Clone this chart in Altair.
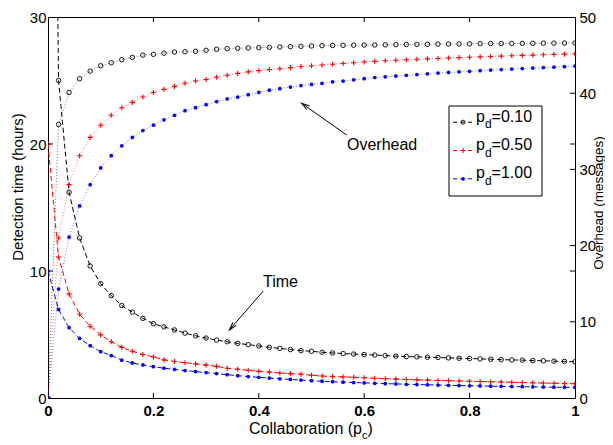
import altair as alt
import pandas as pd

# ---------------- data ----------------
pc = [round(i * 0.02, 2) for i in range(51)]
series_keys = ["0.10", "0.50", "1.00"]

time_010 = [100, 25.0, 16.2, 12.6, 10.4, 9.0, 8.06, 7.28, 6.76, 6.27, 5.85, 5.6, 5.36, 5.11,
            4.90, 4.72, 4.56, 4.43, 4.30, 4.20, 4.10, 3.99, 3.91, 3.81, 3.73, 3.68, 3.60, 3.55,
            3.50, 3.46, 3.42, 3.38, 3.34, 3.29, 3.26, 3.24, 3.21, 3.19, 3.16, 3.13, 3.11, 3.08,
            3.05, 3.02, 3.00, 2.98, 2.95, 2.93, 2.90, 2.88, 2.85]
time_050 = [20, 11.1, 8.2, 6.6, 5.65, 4.97, 4.43, 3.99, 3.68, 3.42, 3.24, 3.0, 2.87, 2.78,
            2.69, 2.59, 2.49, 2.34, 2.26, 2.18, 2.10, 2.04, 1.97, 1.92, 1.87, 1.79, 1.73, 1.69,
            1.66, 1.63, 1.60, 1.55, 1.52, 1.49, 1.46, 1.43, 1.41, 1.38, 1.36, 1.34, 1.32, 1.30,
            1.28, 1.26, 1.24, 1.22, 1.20, 1.18, 1.16, 1.14, 1.12]
time_100 = [10, 6.97, 5.54, 4.69, 4.12, 3.65, 3.34, 2.98, 2.76, 2.60, 2.47, 2.35, 2.25, 2.16,
            2.08, 2.00, 1.92, 1.84, 1.76, 1.69, 1.63, 1.57, 1.51, 1.46, 1.41, 1.36, 1.32, 1.28,
            1.25, 1.22, 1.19, 1.16, 1.13, 1.11, 1.08, 1.06, 1.04, 1.02, 1.00, 0.98, 0.96, 0.95,
            0.93, 0.92, 0.90, 0.89, 0.88, 0.86, 0.85, 0.84, 0.83]

over_010 = [0, 35.9, 40.1, 41.9, 42.9, 43.6, 44.0, 44.4, 44.7, 45.0, 45.1, 45.25, 45.4, 45.45,
            45.5, 45.63, 45.76, 45.85, 45.9, 45.94, 45.98, 46.02, 46.07, 46.11, 46.15, 46.2,
            46.24, 46.26, 46.28, 46.3, 46.32, 46.33, 46.35, 46.37, 46.39, 46.41, 46.42, 46.44,
            46.45, 46.47, 46.48, 46.5, 46.51, 46.52, 46.53, 46.54, 46.55, 46.56, 46.57, 46.58, 46.6]
over_050 = [0, 21.0, 28.0, 31.8, 34.2, 35.8, 37.1, 38.1, 38.8, 39.5, 40.1, 40.5, 40.9, 41.3,
            41.6, 41.8, 42.1, 42.36, 42.6, 42.8, 42.96, 43.1, 43.2, 43.35, 43.5, 43.6, 43.7,
            43.8, 43.9, 44.0, 44.1, 44.18, 44.25, 44.32, 44.38, 44.45, 44.5, 44.56, 44.62,
            44.67, 44.72, 44.77, 44.82, 44.87, 44.92, 44.96, 45.0, 45.05, 45.09, 45.13, 45.17]
over_100 = [0, 14.3, 21.1, 25.2, 28.0, 30.2, 31.8, 33.1, 34.2, 35.1, 35.8, 36.5, 37.1, 37.7,
            38.1, 38.5, 38.9, 39.25, 39.5, 39.8, 40.1, 40.4, 40.6, 40.8, 41.0, 41.15, 41.3,
            41.5, 41.6, 41.75, 41.9, 42.06, 42.15, 42.25, 42.35, 42.45, 42.55, 42.64, 42.72,
            42.8, 42.88, 42.96, 43.04, 43.1, 43.17, 43.24, 43.3, 43.36, 43.42, 43.48, 43.55]

x_ticks = [0, 0.2, 0.4, 0.6, 0.8, 1]
left_ticks = [0, 10, 20, 30]
right_ticks = [0, 10, 20, 30, 40, 50]

colors = {"0.10": "#000000", "0.50": "#ff0000", "1.00": "#0000ff"}

times = {"0.10": time_010, "0.50": time_050, "1.00": time_100}
overs = {"0.10": over_010, "0.50": over_050, "1.00": over_100}

time_df = pd.DataFrame([{"pc": x, "time": v, "pd": k}
                        for k in series_keys for x, v in zip(pc, times[k])])
over_df = pd.DataFrame([{"pc": x, "overhead": v, "pd": k}
                        for k in series_keys for x, v in zip(pc, overs[k])])

# ---------------- layout ----------------
PAD_L, PAD_T, PAD_R, PAD_B = 40, 9, 30, 45
W, H = 527, 381
OX, OY = 8 + PAD_L, 8 + PAD_T          # page position of the plot origin
FONT = "Liberation Sans"

x_enc = alt.X("pc:Q", scale=alt.Scale(domain=[0, 1], nice=False),
              axis=alt.Axis(values=x_ticks, format="~g", ticks=False, domain=False, grid=False,
                            labelFontWeight="bold", labelFontSize=15, labelPadding=5,
                            labelFlush=False, labelColor="black", title=None))
y_time = alt.Y("time:Q", scale=alt.Scale(domain=[0, 30], nice=False),
               axis=alt.Axis(orient="left", values=left_ticks, ticks=False, domain=False,
                             grid=False, labelFontSize=15, labelPadding=2,
                             labelColor="black", title=None))
y_over = alt.Y("overhead:Q", scale=alt.Scale(domain=[0, 50], nice=False),
               axis=alt.Axis(orient="right", values=right_ticks, ticks=False, domain=False,
                             grid=False, labelFontSize=15, labelPadding=4,
                             labelColor="black", title=None))

PLUS = "M -1 0 L 1 0 M 0 -1 L 0 1"


def marker(key, **kw):
    if key == "0.10":
        return alt.Chart(**kw).mark_point(shape="circle", size=20, filled=False,
                                          color=colors[key], strokeWidth=0.9, opacity=1,
                                          clip=True)
    if key == "0.50":
        return alt.Chart(**kw).mark_point(shape=PLUS, size=26, filled=False,
                                          color=colors[key], strokeWidth=1.1, opacity=1,
                                          clip=True)
    return alt.Chart(**kw).mark_point(shape="circle", size=14, filled=True,
                                      color=colors[key], opacity=1, clip=True)


time_layers = []
over_layers = []
for k in series_keys:
    time_layers.append(
        alt.Chart(time_df).transform_filter(alt.datum.pd == k)
        .mark_line(color=colors[k], strokeDash=[5, 3], strokeWidth=1, clip=True)
        .encode(x=x_enc, y=y_time))
    time_layers.append(
        marker(k, data=time_df).transform_filter(alt.datum.pd == k).encode(x=x_enc, y=y_time))
    over_layers.append(
        alt.Chart(over_df).transform_filter(alt.datum.pd == k)
        .mark_line(color=colors[k], strokeDash=[1, 2], strokeWidth=1, opacity=0.55, clip=True)
        .encode(x=x_enc, y=y_over))
    over_layers.append(
        marker(k, data=over_df).transform_filter(alt.datum.pd == k).encode(x=x_enc, y=y_over))

# inward ticks (MATLAB style)
TL = 5
lt_df = pd.DataFrame({"time": [10, 20]})
time_layers.append(alt.Chart(lt_df).mark_rule(color="black", strokeWidth=1)
                   .encode(y=y_time, x=alt.value(0), x2=alt.value(TL)))
time_layers.append(alt.Chart(lt_df).mark_rule(color="black", strokeWidth=1)
                   .encode(y=y_time, x=alt.value(W), x2=alt.value(W - TL)))
rt_df = pd.DataFrame({"overhead": [10, 20, 30, 40]})
over_layers.append(alt.Chart(rt_df).mark_rule(color="black", strokeWidth=1)
                   .encode(y=y_over, x=alt.value(W), x2=alt.value(W - TL)))
xt_df = pd.DataFrame({"pc": [0.2, 0.4, 0.6, 0.8]})
time_layers.append(alt.Chart(xt_df).mark_rule(color="black", strokeWidth=1)
                   .encode(x=x_enc, y=alt.value(H), y2=alt.value(H - TL)))
time_layers.append(alt.Chart(xt_df).mark_rule(color="black", strokeWidth=1)
                   .encode(x=x_enc, y=alt.value(0), y2=alt.value(TL)))

time_group = alt.layer(*time_layers)
over_group = alt.layer(*over_layers)

# ---------------- annotations, titles, legend (page coordinates) ----------------
one = pd.DataFrame({"a": [0]})


def text(s, x, y, size=16, angle=0, align="left", baseline="alphabetic"):
    return alt.Chart(one).mark_text(text=s, fontSize=size, angle=angle, align=align,
                                    baseline=baseline, color="black",
                                    font=FONT).encode(x=alt.value(x - OX), y=alt.value(y - OY))


def rule(x1, y1, x2, y2, color="black", dash=None, width=1):
    kw = dict(color=color, strokeWidth=width)
    if dash:
        kw["strokeDash"] = dash
    return alt.Chart(one).mark_rule(**kw).encode(
        x=alt.value(x1 - OX), y=alt.value(y1 - OY), x2=alt.value(x2 - OX), y2=alt.value(y2 - OY))


ARROW = "M -0.45 1.6 L 0 0 L 0.45 1.6"


def head(x, y, ang):
    return alt.Chart(one).mark_point(shape=ARROW, size=100, filled=False, color="black",
                                     strokeWidth=1, angle=ang, opacity=1).encode(
        x=alt.value(x - OX), y=alt.value(y - OY))


ann = [
    text("Overhead", 347, 145, baseline="middle"),
    rule(346.7, 135, 301.7, 103.3),
    head(301.7, 103.3, 305),
    text("Time", 263, 282, baseline="middle"),
    rule(263.3, 291, 229.3, 330),
    head(229.3, 330, 221),
    # axis titles
    text("Collaboration (p", 249, 434, size=16),
    text("c", 362, 439, size=11),
    text(")", 367.5, 434, size=16),
    text("Detection time (hours)", 18, 187, size=15, angle=270, align="center",
         baseline="middle"),
    text("Overhead (messages)", 599, 203, size=13.5, angle=270, align="center",
         baseline="middle"),
    # legend box
    alt.Chart(one).mark_rect(fill="white", stroke="black", strokeWidth=1).encode(
        x=alt.value(449 - OX), x2=alt.value(542 - OX),
        y=alt.value(106 - OY), y2=alt.value(196 - OY)),
]

leg_marker_style = {
    "0.10": dict(shape="circle", size=16, filled=False, strokeWidth=0.9),
    "0.50": dict(shape=PLUS, size=24, filled=False, strokeWidth=1.1),
    "1.00": dict(shape="circle", size=14, filled=True),
}
for i, k in enumerate(series_keys):
    yb = 121.7 + 28.3 * i
    ann.append(rule(453, yb + 0.5, 473, yb + 0.5, color=colors[k], dash=[4, 3.5]))
    ann.append(alt.Chart(one).mark_point(color=colors[k], opacity=1, **leg_marker_style[k])
               .encode(x=alt.value(463 - OX), y=alt.value(yb + 0.5 - OY)))
    ann.append(text("p", 476, yb, size=16))
    ann.append(text("d", 485, yb + 6.5, size=12))
    ann.append(text("=" + k, 491.6, yb, size=16))

ann_group = alt.layer(*ann)

chart = (
    alt.layer(time_group, over_group, ann_group)
    .resolve_scale(y="independent")
    .properties(width=W, height=H,
                autosize=alt.AutoSizeParams(type="none"),
                padding={"left": PAD_L, "top": PAD_T, "right": PAD_R, "bottom": PAD_B})
    .configure(font=FONT)
    .configure_view(stroke="black", strokeWidth=1)
)

chart.save("out.html", embed_options={"renderer": "svg", "actions": False})
